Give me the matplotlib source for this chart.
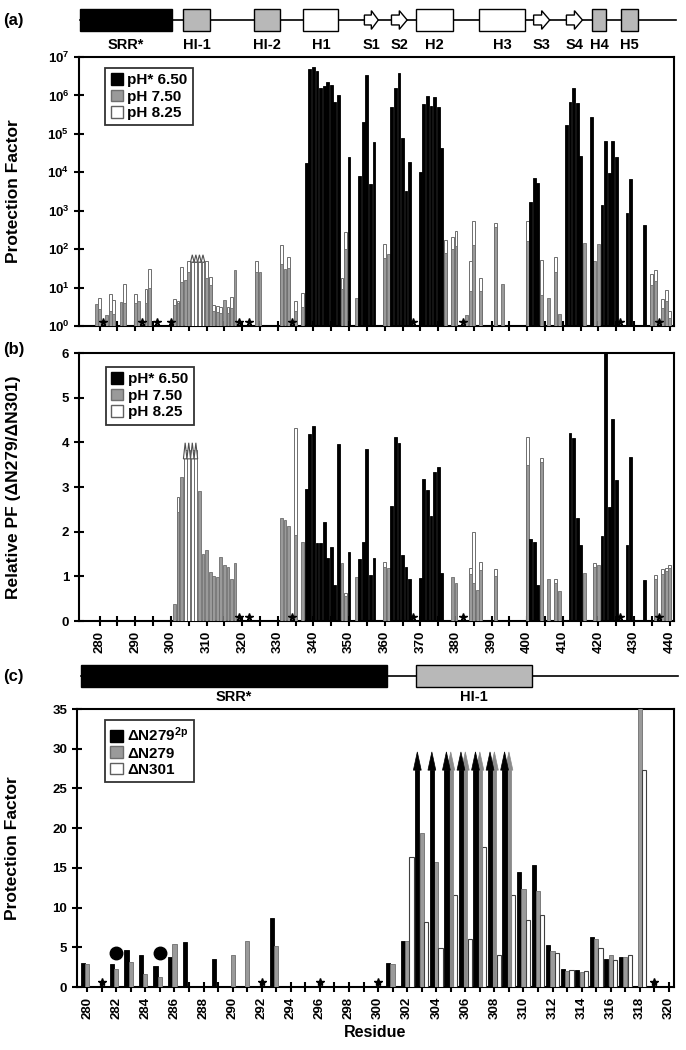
import numpy as np
import matplotlib
matplotlib.use('Agg')
import matplotlib.pyplot as plt
from matplotlib.patches import Rectangle, Polygon, Patch

plt.rcParams['font.family'] = ['Liberation Sans', 'DejaVu Sans']
plt.rcParams['font.weight'] = 'bold'
plt.rcParams['mathtext.fontset'] = 'custom'
plt.rcParams['mathtext.rm'] = 'Liberation Sans:bold'
plt.rcParams['mathtext.bf'] = 'Liberation Sans:bold'
plt.rcParams['mathtext.it'] = 'Liberation Sans:bold'
plt.rcParams['axes.linewidth'] = 1.5

# ---------------- domain schematics ----------------
dom_names = ['SRR*', 'HI-1', 'HI-2', 'H1', 'S1', 'S2', 'H2', 'H3', 'S3', 'S4', 'H4', 'H5']
dom_start = [274.5, 303.5, 323.2, 337.2, 354.3, 361.9, 368.7, 386.4, 401.8, 411.0, 418.3, 426.4]
dom_end = [300.4, 310.9, 330.5, 347.0, 358.2, 366.3, 379.2, 399.4, 406.3, 415.5, 422.2, 431.0]
dom_kind = ['srr', 'hi', 'hi', 'helix', 'strand', 'strand', 'helix', 'helix', 'strand', 'strand', 'hi', 'hi']
dom_line_end = 441.8

domc_names = ['SRR*', 'HI-1']
domc_start = [279.57, 302.6]
domc_end = [300.6, 310.6]
domc_kind = ['srr', 'hi']
domc_line_end = 320.6

# ---------------- panel (a): protection factors ----------------
a_black_res = [338, 339, 340, 341, 342, 343, 344, 345, 346, 347, 350, 353, 354, 355, 356, 357,
               362, 363, 364, 365, 366, 367, 370, 371, 372, 373, 374, 375, 376, 401, 402, 403,
               411, 412, 413, 414, 415, 418, 421, 422, 423, 424, 425, 428, 429, 433]
a_black_pf = [1.7e4, 5.0e6, 5.4e6, 4.4e6, 1.6e6, 1.8e6, 2.2e6, 1.9e6, 6.6e5, 1.05e6, 2.5e4, 7.9e3,
              2.0e5, 3.5e6, 5.1e3, 6.0e4, 4.9e5, 1.55e6, 3.8e6, 7.6e4, 3.3e3, 1.9e4, 1.0e4, 5.9e5,
              9.8e5, 5.4e5, 9.3e5, 4.9e5, 4.2e4, 1.7e3, 7.1e3, 5.2e3, 1.7e5, 6.6e5, 1.55e6, 6.3e5,
              2.6e4, 2.7e5, 1.4e3, 6.6e4, 9.5e3, 6.6e4, 2.5e4, 870, 6.8e3, 430]
a_gray_res = [279, 280, 282, 283, 284, 286, 287, 290, 291, 293, 294, 301, 302, 303, 304, 305,
              310, 311, 312, 313, 314, 315, 316, 317, 318, 324, 325, 331, 332, 333, 335, 337,
              348, 349, 352, 360, 361, 377, 379, 380, 383, 384, 385, 387, 391, 393, 400, 404,
              406, 408, 409, 416, 419, 420, 435, 436, 438, 439, 440]
a_gray_pf = [3.8, 2.8, 1.9, 2.5, 2.0, 4.2, 4.0, 4.0, 4.4, 4.0, 10, 3.5, 4.0, 14, 16, 25,
             18, 12, 2.5, 2.3, 2.2, 4.7, 2.2, 3.0, 29, 25, 26, 40, 31, 32, 2.5, 3.2,
             9.3, 100, 5.4, 60, 76, 80, 100, 120, 1.95, 8, 126, 8, 370, 12.6, 160, 6.3,
             5.4, 25, 2.1, 145, 48, 138, 12, 15, 3.0, 4.5, 1.6]
a_white_res = [280, 283, 284, 287, 290, 293, 294, 301, 302, 303, 305, 310, 311, 312, 313, 314,
               316, 317, 324, 331, 333, 335, 337, 348, 349, 360, 377, 379, 380, 384, 385, 387,
               391, 400, 404, 408, 435, 436, 438, 439, 440]
a_white_pf = [5.4, 6.9, 4.7, 12.6, 6.9, 9.3, 31, 4.9, 4.4, 34, 50, 48, 19, 3.5, 3.3, 3.1,
              3.1, 5.6, 50, 129, 62, 4.4, 7.4, 18, 275, 138, 170, 204, 288, 48, 550, 18,
              480, 525, 51, 62, 23, 28, 5.1, 8.7, 2.4]
a_arrow_res = [306, 307, 308, 309]
a_arrow_pf = [46, 46, 46, 46]
a_star_res = [281, 292, 296, 300, 319, 322, 334, 368, 382, 426, 437]

# ---------------- panel (b): relative PF ----------------
b_black_res = [338, 339, 340, 341, 342, 343, 344, 345, 346, 347, 350, 353, 354, 355, 356, 357,
               362, 363, 364, 365, 366, 367, 370, 371, 372, 373, 374, 375, 376, 401, 402, 403,
               412, 413, 414, 415, 421, 422, 423, 424, 425, 428, 429, 433]
b_black_val = [2.96, 4.18, 4.37, 1.74, 1.74, 2.22, 1.40, 1.66, 0.81, 3.97, 1.55, 1.38, 1.77, 3.86,
               1.03, 1.40, 2.57, 4.11, 3.99, 1.47, 1.20, 0.93, 0.97, 3.18, 2.93, 2.36, 3.33, 3.45,
               1.07, 1.83, 1.77, 0.81, 4.21, 4.09, 2.30, 1.70, 1.90, 6.2, 2.56, 4.53, 3.15, 1.70,
               3.68, 0.92]
b_gray_res = [301, 302, 303, 308, 309, 310, 311, 312, 313, 314, 315, 316, 317, 318, 331, 332,
              333, 335, 337, 348, 349, 352, 360, 361, 379, 380, 384, 385, 386, 387, 391, 400,
              404, 406, 408, 409, 416, 419, 420, 436, 438, 439, 440]
b_gray_val = [0.37, 2.45, 3.23, 2.92, 1.49, 1.59, 1.10, 1.00, 0.99, 1.44, 1.25, 1.20, 0.95, 1.30,
              2.30, 2.26, 2.12, 1.92, 1.76, 1.29, 0.55, 0.99, 1.20, 1.18, 0.99, 0.84, 1.05, 0.84,
              0.69, 1.15, 1.00, 3.50, 3.55, 0.93, 0.85, 0.67, 1.08, 1.20, 1.25, 0.95, 1.05, 1.12,
              1.18]
b_white_res = [302, 335, 349, 360, 384, 385, 387, 391, 400, 404, 408, 419, 436, 438, 439, 440]
b_white_val = [2.78, 4.33, 0.62, 1.33, 1.18, 2.00, 1.33, 1.16, 4.11, 3.64, 0.95, 1.29, 1.04,
               1.16, 1.19, 1.26]
b_arrow_res = [304, 305, 306, 307]
b_arrow_val = [3.83, 3.83, 3.83, 3.83]
b_star_res = [319, 322, 334, 368, 382, 426, 437]

# ---------------- panel (c): N-terminal region ----------------
c_blk_res = [280, 282, 283, 284, 285, 286, 287, 289, 293, 301, 302, 310, 311, 312, 313, 314, 315, 316, 317]
c_blk_val = [3.0, 2.9, 4.7, 4.0, 2.7, 3.8, 5.7, 3.5, 8.7, 3.0, 5.8, 14.5, 15.4, 5.3, 2.3, 2.1, 6.3, 3.5, 3.8]
c_blk_arrow = [303, 304, 305, 306, 307, 308, 309]
c_gry_res = [280, 282, 283, 284, 285, 286, 290, 291, 293, 301, 302, 303, 304, 310, 311, 312, 313,
             314, 315, 316, 317, 318]
c_gry_val = [2.9, 2.3, 3.1, 1.6, 1.2, 5.4, 4.0, 5.8, 5.1, 2.9, 5.8, 19.4, 15.8, 12.3, 12.1, 4.5,
             2.0, 1.9, 6.1, 4.0, 3.8, 40.0]
c_gry_arrow = [305, 306, 307, 308, 309]
c_wht_res = [302, 303, 304, 305, 306, 307, 308, 309, 310, 311, 312, 313, 314, 315, 316, 317, 318]
c_wht_val = [16.4, 8.2, 4.9, 11.6, 6.0, 17.6, 4.0, 11.6, 8.4, 9.1, 4.3, 2.1, 2.0, 4.95, 3.4, 4.0, 27.3]
c_arrow_top = 27.3
c_arrow_tip = 29.6
c_star_res = [281, 292, 296, 300, 319]
c_circle_res = [282, 285]
c_circle_y = 4.3

leg_ab = ['pH* 6.50', 'pH 7.50', 'pH 8.25']
leg_c = ['\u0394N279$^{2p}$', '\u0394N279', '\u0394N301']

# ---------------- styles ----------------
BLACK = '#000000'
GRAY = '#9a9a9a'
GRAY_EDGE = '#6e6e6e'
WHITE_EDGE = '#6e6e6e'
DOM_GRAY = '#b8b8b8'

W, H = 686, 1050
fig = plt.figure(figsize=(W / 100, H / 100), dpi=100)


def px_axes(l, t, r, b):
    return fig.add_axes([l / W, 1 - b / H, (r - l) / W, (b - t) / H])


XLIM_AB = (274.2, 441.2)
XLIM_C = (279.3, 320.35)


def draw_schematic(ax, names, starts, ends, kinds, line_end, yc, hh, ylab, fs):
    ax.plot([starts[0], line_end], [yc, yc], color='black', lw=1.2, zorder=1, clip_on=False)
    for n, s, e, k in zip(names, starts, ends, kinds):
        if k == 'strand':
            w = e - s
            bx = s + 0.5 * w
            pts = [(s, yc - hh * 0.45), (bx, yc - hh * 0.45), (bx, yc - hh * 0.85), (e, yc),
                   (bx, yc + hh * 0.85), (bx, yc + hh * 0.45), (s, yc + hh * 0.45)]
            ax.add_patch(Polygon(pts, closed=True, facecolor='white', edgecolor='black', lw=1.0,
                                 zorder=2, clip_on=False))
        else:
            fc = {'srr': 'black', 'hi': DOM_GRAY, 'helix': 'white'}[k]
            ax.add_patch(Rectangle((s, yc - hh), e - s, 2 * hh, facecolor=fc, edgecolor='black',
                                   lw=1.0, zorder=2, clip_on=False))
        ax.text((s + e) / 2, ylab, n, ha='center', va='center', fontsize=fs, fontweight='bold')


# schematic (a)
schA = px_axes(79, 0, 674, 56)
schA.set_xlim(*XLIM_AB)
schA.set_ylim(56, 0)
schA.axis('off')
draw_schematic(schA, dom_names, dom_start, dom_end, dom_kind, dom_line_end, 20, 11, 45, 10.5)

# schematic (c)
schC = px_axes(77, 655, 674, 706)
schC.set_xlim(*XLIM_C)
schC.set_ylim(706, 655)
schC.axis('off')
draw_schematic(schC, domc_names, domc_start, domc_end, domc_kind, domc_line_end, 676, 11, 697, 10.5)

BW = 0.8

# ---------------- panel (a) ----------------
axA = px_axes(79, 57, 674, 326)
axA.set_yscale('log')
axA.bar(a_white_res, np.array(a_white_pf) - 1, bottom=1, width=BW, color='white', edgecolor=WHITE_EDGE, lw=0.7, zorder=2)
axA.bar(a_gray_res, np.array(a_gray_pf) - 1, bottom=1, width=BW, color=GRAY, edgecolor=GRAY_EDGE, lw=0.6, zorder=3)
axA.bar(a_black_res, np.array(a_black_pf) - 1, bottom=1, width=BW, color=BLACK, edgecolor=BLACK, lw=0.6, zorder=4)
axA.bar(a_arrow_res, np.array(a_arrow_pf) - 1, bottom=1, width=BW, color='white', edgecolor=GRAY_EDGE, lw=0.7, zorder=3)
for r, v in zip(a_arrow_res, a_arrow_pf):
    axA.add_patch(Polygon([(r - 0.5, v), (r + 0.5, v), (r, v * 1.55)], closed=True,
                          facecolor='white', edgecolor='#505050', lw=0.8, zorder=5))
axA.plot(a_star_res, [1.28] * len(a_star_res), ls='none', marker='*', ms=5.5, color='black', zorder=6)
axA.set_ylim(1, 1e7)
axA.set_xlim(*XLIM_AB)
axA.set_yticks([10 ** i for i in range(8)])
axA.set_yticklabels([r'$10^{%d}$' % i for i in range(8)])
axA.yaxis.set_minor_locator(matplotlib.ticker.NullLocator())
axA.set_xticks(np.arange(280, 441, 5))
axA.set_xticklabels([])
axA.set_ylabel('Protection Factor', fontsize=12.5, fontweight='bold')
axA.yaxis.set_label_coords(-0.097, 0.5)

# ---------------- panel (b) ----------------
axB = px_axes(79, 353, 674, 621)
axB.bar(b_white_res, b_white_val, width=BW, color='white', edgecolor=WHITE_EDGE, lw=0.7, zorder=2)
axB.bar(b_gray_res, b_gray_val, width=BW, color=GRAY, edgecolor=GRAY_EDGE, lw=0.6, zorder=3)
axB.bar(b_black_res, b_black_val, width=BW, color=BLACK, edgecolor=BLACK, lw=0.6, zorder=4)
axB.bar(b_arrow_res, b_arrow_val, width=BW, color='white', edgecolor=GRAY_EDGE, lw=0.7, zorder=3)
for r, v in zip(b_arrow_res, b_arrow_val):
    axB.add_patch(Polygon([(r - 0.5, v - 0.2), (r + 0.5, v - 0.2), (r, v + 0.16)], closed=True,
                          facecolor='white', edgecolor='#505050', lw=0.8, zorder=5))
axB.plot(b_star_res, [0.08] * len(b_star_res), ls='none', marker='*', ms=5.5, color='black', zorder=6)
axB.set_ylim(0, 6)
axB.set_xlim(*XLIM_AB)
axB.set_yticks(range(0, 7))
axB.set_xticks(np.arange(280, 441, 10))
axB.set_xticks(np.arange(285, 441, 10), minor=True)
axB.set_xticklabels([str(v) for v in range(280, 441, 10)], rotation=90)
axB.set_ylabel('Relative PF (\u0394N279/\u0394N301)', fontsize=12.5, fontweight='bold')
axB.yaxis.set_label_coords(-0.097, 0.5)

# ---------------- panel (c) ----------------
axC = px_axes(77, 709, 674, 987)
CW = 0.29
OFF = 0.3
axC.bar(np.array(c_blk_res) - OFF, c_blk_val, width=CW, color=BLACK, edgecolor=BLACK, lw=0.6, zorder=3)
axC.bar(np.array(c_gry_res), c_gry_val, width=CW, color=GRAY, edgecolor=GRAY_EDGE, lw=0.6, zorder=3)
axC.bar(np.array(c_wht_res) + OFF, c_wht_val, width=CW, color='white', edgecolor='#404040', lw=0.8, zorder=3)
for res, off, col in [(c_blk_arrow, -OFF, BLACK), (c_gry_arrow, 0.0, '#8a8a8a')]:
    xs = np.array(res) + off
    axC.bar(xs, [c_arrow_top] * len(xs), width=CW, color=col, edgecolor=col, lw=0.6, zorder=4 if col == BLACK else 3.5)
    for x in xs:
        axC.add_patch(Polygon([(x - 0.27, c_arrow_top), (x + 0.27, c_arrow_top), (x, c_arrow_tip)],
                              closed=True, facecolor=col, edgecolor=col, lw=0.5,
                              zorder=4 if col == BLACK else 3.5))
axC.plot(c_star_res, [0.6] * len(c_star_res), ls='none', marker='*', ms=6, color='black', zorder=6)
axC.plot(c_circle_res, [c_circle_y] * len(c_circle_res), ls='none', marker='o', ms=9, color='black', zorder=6)
axC.set_ylim(0, 35)
axC.set_xlim(*XLIM_C)
axC.set_yticks(range(0, 36, 5))
axC.set_xticks(np.arange(280, 321, 2))
axC.set_xticks(np.arange(281, 321, 2), minor=True)
axC.set_xticklabels([str(v) for v in range(280, 321, 2)], rotation=90)
axC.set_ylabel('Protection Factor', fontsize=12.5, fontweight='bold')
axC.yaxis.set_label_coords(-0.095, 0.5)
axC.set_xlabel('Residue', fontsize=11.5, fontweight='bold', labelpad=4)

for ax in (axA, axB, axC):
    ax.tick_params(axis='both', which='major', direction='inout', length=7, width=1.5, labelsize=9.5)
    ax.tick_params(axis='both', which='minor', direction='inout', length=7, width=1.5)
    for lab in ax.get_xticklabels() + ax.get_yticklabels():
        lab.set_fontweight('bold')
    for sp in ax.spines.values():
        sp.set_linewidth(1.5)

# legends
def make_legend(ax, labels, anchor, gray):
    handles = [Patch(facecolor='black', edgecolor='black'),
               Patch(facecolor=gray, edgecolor=GRAY_EDGE),
               Patch(facecolor='white', edgecolor='#606060')]
    leg = ax.legend(handles, labels, loc='upper left', bbox_to_anchor=anchor, borderaxespad=0,
                    fontsize=11, frameon=True, fancybox=False, edgecolor='black',
                    handlelength=0.8, handleheight=0.8, handletextpad=0.3, labelspacing=0.15,
                    borderpad=0.35)
    leg.get_frame().set_linewidth(1.3)
    for t in leg.get_texts():
        t.set_fontweight('bold')
    leg.set_zorder(10)

make_legend(axA, leg_ab, (0.044, 0.96), GRAY)
make_legend(axB, leg_ab, (0.045, 0.948), GRAY)
make_legend(axC, leg_c, (0.047, 0.96), GRAY)

fig.text(3 / W, 1 - 20 / H, '(a)', fontsize=12, fontweight='bold', va='center', ha='left')
fig.text(3 / W, 1 - 350 / H, '(b)', fontsize=12, fontweight='bold', va='center', ha='left')
fig.text(3 / W, 1 - 677 / H, '(c)', fontsize=12, fontweight='bold', va='center', ha='left')

fig.savefig('out.png', dpi=100)
